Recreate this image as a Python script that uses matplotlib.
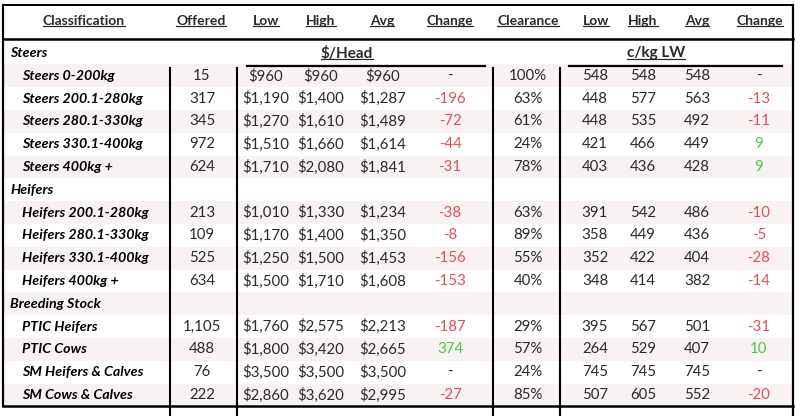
import matplotlib
matplotlib.use("Agg")
import matplotlib.pyplot as plt

plt.rcParams['font.family'] = ['Lato', 'DejaVu Sans']

# table contents
labels = ["Steers", "Steers 0-200kg", "Steers 200.1-280kg", "Steers 280.1-330kg",
          "Steers 330.1-400kg", "Steers 400kg +", "Heifers", "Heifers 200.1-280kg",
          "Heifers 280.1-330kg", "Heifers 330.1-400kg", "Heifers 400kg +",
          "Breeding Stock", "PTIC Heifers", "PTIC Cows", "SM Heifers & Calves",
          "SM Cows & Calves"]
is_section = [True, False, False, False, False, False, True, False, False, False,
              False, True, False, False, False, False]
offered = ["", "15", "317", "345", "972", "624", "", "213", "109", "525", "634",
           "", "1,105", "488", "76", "222"]
head_low = ["", "$960", "$1,190", "$1,270", "$1,510", "$1,710", "", "$1,010", "$1,170",
            "$1,250", "$1,500", "", "$1,760", "$1,800", "$3,500", "$2,860"]
head_high = ["", "$960", "$1,400", "$1,610", "$1,660", "$2,080", "", "$1,330", "$1,400",
             "$1,500", "$1,710", "", "$2,575", "$3,420", "$3,500", "$3,620"]
head_avg = ["", "$960", "$1,287", "$1,489", "$1,614", "$1,841", "", "$1,234", "$1,350",
            "$1,453", "$1,608", "", "$2,213", "$2,665", "$3,500", "$2,995"]
head_change = ["", "-", "-196", "-72", "-44", "-31", "", "-38", "-8", "-156", "-153",
               "", "-187", "374", "-", "-27"]
clearance = ["", "100%", "63%", "61%", "24%", "78%", "", "63%", "89%", "55%", "40%",
             "", "29%", "57%", "24%", "85%"]
ckg_low = ["", "548", "448", "448", "421", "403", "", "391", "358", "352", "348",
           "", "395", "264", "745", "507"]
ckg_high = ["", "548", "577", "535", "466", "436", "", "542", "449", "422", "414",
            "", "567", "529", "745", "605"]
ckg_avg = ["", "548", "563", "492", "449", "428", "", "486", "436", "404", "382",
           "", "501", "407", "745", "552"]
ckg_change = ["", "-", "-13", "-11", "9", "9", "", "-10", "-5", "-28", "-14",
              "", "-31", "10", "-", "-20"]

headers = ["Classification", "Offered", "Low", "High", "Avg", "Change", "Clearance",
           "Low", "High", "Avg", "Change"]
header_x = [84, 201, 266, 321, 382, 450, 528, 596, 643, 697, 760]

TEXT = "#2a2a2a"
RED = "#e0505c"
GREEN = "#44cc44"
STRIPE = "#f8f3f2"

fig = plt.figure(figsize=(8, 4.16), dpi=100)
ax = fig.add_axes([0, 0, 1, 1])
ax.set_xlim(0, 800)
ax.set_ylim(416, 0)
ax.axis("off")

row_top = 41.6
row_h = 22.8
left, right = 3, 793
bottom = row_top + row_h * len(labels)

# striped rows
for i in range(len(labels)):
    if i % 2 == 1:
        ax.add_patch(plt.Rectangle((left, row_top + i * row_h), right - left, row_h,
                                   color=STRIPE, lw=0, zorder=0))

# header
hdr_texts = []
for h, x in zip(headers, header_x):
    t = ax.text(x, 21, h, ha="center", va="center", fontsize=10,
                fontweight="bold", color=TEXT)
    hdr_texts.append(t)

# group titles
grp = []
grp.append(ax.text(347, 53, "$/Head", ha="center", va="center", fontsize=11,
                   fontweight="bold", color=TEXT))
grp.append(ax.text(656, 53, "c/kg LW", ha="center", va="center", fontsize=11,
                   fontweight="bold", color=TEXT))
ax.plot([247, 485], [65.5, 65.5], color="black", lw=1.6)
ax.plot([569, 782], [65.5, 65.5], color="black", lw=1.6)

columns = [offered, head_low, head_high, head_avg, head_change, clearance,
           ckg_low, ckg_high, ckg_avg, ckg_change]
col_x = [202, 266, 321, 383, 450, 528, 595, 643, 697, 759]
change_cols = [4, 9]

for i, lab in enumerate(labels):
    y = row_top + (i + 0.5) * row_h
    ax.text(10 if is_section[i] else 22, y, lab, ha="left", va="center", fontsize=10.3,
            fontweight="bold", fontstyle="italic", color="black")
    for j, col in enumerate(columns):
        s = col[i]
        if not s:
            continue
        c = TEXT
        if j in change_cols and s != "-":
            c = RED if s.startswith("-") else GREEN
        ax.text(col_x[j], y, s, ha="center", va="center", fontsize=10.8, color=c)

# borders
ax.plot([left, right], [5, 5], color="black", lw=1.4)
ax.plot([left, right], [39, 39], color="black", lw=1.8)
ax.plot([left, right], [bottom, bottom], color="black", lw=1.8)
ax.plot([left, left], [5, bottom], color="black", lw=1.6)
ax.plot([right, right], [5, 416], color="black", lw=1.6)
for x in [170, 237, 493, 560]:
    ax.plot([x, x], [68, 416], color="black", lw=1.5)

# underline header & group titles
fig.canvas.draw()
renderer = fig.canvas.get_renderer()
inv = ax.transData.inverted()
for t in hdr_texts + grp:
    bb = t.get_window_extent(renderer)
    (x0, y0), (x1, y1) = inv.transform([(bb.x0, bb.y0), (bb.x1, bb.y1)])
    ax.plot([x0, x1], [y0 - 1.5, y0 - 1.5], color=TEXT, lw=0.9)

fig.savefig("out.png", dpi=100)
